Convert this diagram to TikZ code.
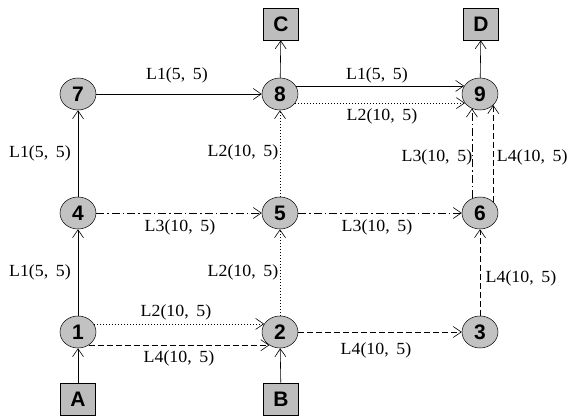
\documentclass[tikz,border=0pt]{standalone}
\usepackage{fontspec}
\newfontfamily\lblfont{Liberation Serif}[FakeStretch=1.05]
\newfontfamily\numfont{Liberation Sans}
\usetikzlibrary{arrows.meta,shapes.geometric}

% edge label text: line name and its two parameters
\newcommand{\lk}[3]{L#1(#2,\hspace{0.45em}#3)}

\begin{document}
\begin{tikzpicture}[x=1pt,y=1pt,
  station/.style={ellipse, draw, line width=0.5pt, fill=black!24,
    minimum width=36pt, minimum height=32pt, inner sep=0pt,
    font=\numfont\bfseries\fontsize{21}{21}\selectfont},
  terminal/.style={rectangle, draw, line width=0.8pt, fill=black!26,
    minimum width=35pt, minimum height=32pt, inner sep=0pt,
    font=\numfont\bfseries\fontsize{21}{21}\selectfont},
  link/.style={line width=0.6pt, -{Straight Barb[length=8pt,width=11pt]}},
  lone/.style={link},
  ltwo/.style={link, dash pattern=on 1pt off 2pt},
  lthree/.style={link, dash pattern=on 8pt off 3pt on 1.5pt off 3pt},
  lfour/.style={link, dash pattern=on 6pt off 3pt},
  lbl/.style={font=\lblfont\fontsize{17}{17}\selectfont, inner sep=0pt}
]
\useasboundingbox (0,0) rectangle (571,416);

% stations
\node[station] (n7) at (78,322) {7};
\node[station] (n8) at (280,322) {8};
\node[station] (n9) at (480,322) {9};
\node[station] (n4) at (78,203) {4};
\node[station] (n5) at (280,203) {5};
\node[station] (n6) at (480,203) {6};
\node[station] (n1) at (78,84) {1};
\node[station] (n2) at (280,84) {2};
\node[station] (n3) at (480,84) {3};

% entry and exit points
\node[terminal] (A) at (78,17) {A};
\node[terminal] (B) at (281,17) {B};
\node[terminal] (C) at (281,392) {C};
\node[terminal] (D) at (481,392) {D};

\draw[lone] (A) -- (n1);
\draw[lone] (B) -- (n2);
\draw[lone] (n8) -- (C);
\draw[lone] (n9) -- (D);

% bottom row
\draw[ltwo] (n1.27) -- node[lbl, xshift=-3pt, yshift=12pt] {\lk{2}{10}{5}} (n2.153);
\draw[lfour] (n1.-51) -- node[lbl, yshift=-13pt] {\lk{4}{10}{5}} (n2.231);
\draw[lfour] (n2) -- node[lbl, xshift=-4pt, yshift=-18pt] {\lk{4}{10}{5}} (n3);

% middle row
\draw[lthree] (n4) -- node[lbl, xshift=1pt, yshift=-14pt] {\lk{3}{10}{5}} (n5);
\draw[lthree] (n5) -- node[lbl, xshift=-3pt, yshift=-14pt] {\lk{3}{10}{5}} (n6);

% top row
\draw[lone] (n7) -- node[lbl, xshift=-2pt, yshift=19pt] {\lk{1}{5}{5}} (n8);
\draw[lone] (n8.27) -- node[lbl, xshift=-3pt, yshift=11pt] {\lk{1}{5}{5}} (n9.153);
\draw[ltwo] (n8.-31) -- node[lbl, xshift=2pt, yshift=-13pt] {\lk{2}{10}{5}} (n9.211);

% left column
\draw[lone] (n1) -- node[lbl, xshift=-38pt] {\lk{1}{5}{5}} (n4);
\draw[lone] (n4) -- node[lbl, xshift=-38pt] {\lk{1}{5}{5}} (n7);

% centre column
\draw[ltwo] (n2) -- node[lbl, xshift=-37pt] {\lk{2}{10}{5}} (n5);
\draw[ltwo] (n5) -- node[lbl, xshift=-37pt, yshift=1pt] {\lk{2}{10}{5}} (n8);

% right column
\draw[lfour] (n3) -- node[lbl, xshift=41pt, yshift=-6pt] {\lk{4}{10}{5}} (n6);
\draw[lthree] (n6.119) -- node[lbl, xshift=-35pt, yshift=-4pt] {\lk{3}{10}{5}} (n9.241);
\draw[lfour] (n6.40) -- node[lbl, xshift=39pt, yshift=-4pt] {\lk{4}{10}{5}} (n9.320);
\end{tikzpicture}
\end{document}
